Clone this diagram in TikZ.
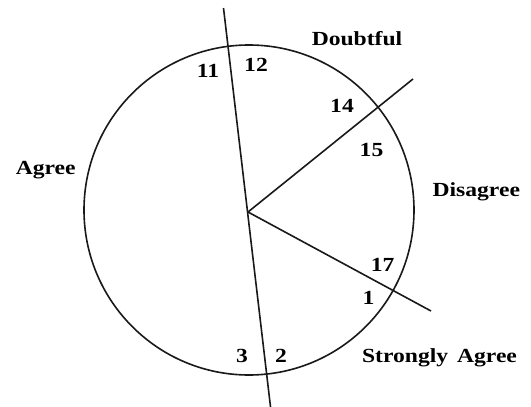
\documentclass[tikz,border=0pt]{standalone}
\usepackage{fontspec}
\newfontfamily\lblfont[FakeStretch=1.18]{Liberation Serif}
\begin{document}
\begin{tikzpicture}[x=1pt,y=-1pt,
  lbl/.style={font=\lblfont\bfseries\fontsize{20}{24}\selectfont, inner sep=0pt, anchor=base},
  ln/.style={line width=1.6pt, draw=black!90}]
\useasboundingbox (0,0) rectangle (531,407);
\node[ln, draw, circle, minimum size=330pt, inner sep=0pt] (c) at (249,210) {};
\coordinate (O) at (248,212);
\coordinate (top) at (223.5,8);
\coordinate (bot) at (271,411);
\coordinate (ur) at (413,79);
\coordinate (lr) at (431,311);
\draw[ln] (top) -- (bot);
\draw[ln] (O) -- (ur);
\draw[ln] (O) -- (lr);
\node[lbl] (doubtful) at (357,45.7) {Doubtful};
\node[lbl] (n11) at (208,77) {11};
\node[lbl] (n12) at (256,71) {12};
\node[lbl] (n14) at (342,112.8) {14};
\node[lbl] (n15) at (371.5,156.4) {15};
\node[lbl] (agree) at (45.7,174.4) {Agree};
\node[lbl] (disagree) at (476.3,196.4) {Disagree};
\node[lbl] (n17) at (382.7,271) {17};
\node[lbl] (n1) at (368.4,304) {1};
\node[lbl] (n3) at (242,362) {3};
\node[lbl] (n2) at (281,362) {2};
\node[lbl] (sagree) at (439.5,362) {Strongly\hspace{0.15em} Agree};
\end{tikzpicture}
\end{document}
